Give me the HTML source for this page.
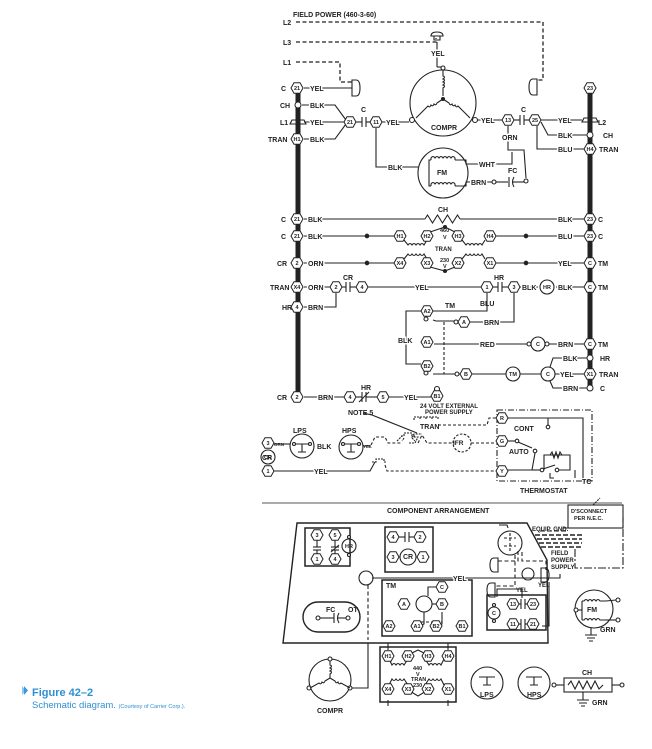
<!DOCTYPE html>
<html><head><meta charset="utf-8"><style>
html,body{margin:0;padding:0;background:#fff;width:652px;height:749px;overflow:hidden}
svg{position:absolute;left:0;top:0}
text{font-family:"Liberation Sans",sans-serif;font-weight:bold;font-size:7px;fill:#222}
.l{paint-order:stroke;stroke:#fff;stroke-width:3px}
.n{font-size:5.5px;text-anchor:middle;stroke:none}
.c{text-anchor:middle}
</style></head><body>
<svg width="652" height="749" viewBox="0 0 652 749" xmlns="http://www.w3.org/2000/svg">
<defs>
<polygon id="h" points="6,0 3,5.2 -3,5.2 -6,0 -3,-5.2 3,-5.2" fill="#fff" stroke="#222" stroke-width="1"/>
</defs>
<g fill="none" stroke="#222" stroke-width="1.1">
<line x1="298" y1="88" x2="298" y2="397" stroke-width="5"/>
<line x1="590" y1="88" x2="590" y2="389" stroke-width="5"/>
<g stroke-dasharray="4,2.5" stroke-width="1.3">
<polyline points="296,22 543,22 543,80 537,80"/>
<polyline points="296,42 436,42 436,38"/>
<polyline points="296,62 340,62 340,82 352,82"/>
</g>
<path d="M352,80 h4 q4,0 4,8 q0,8 -4,8 h-4 z"/>
<path d="M431,36 h12 q0,-4 -6,-4 q-6,0 -6,4 z M434,36 v4 h6 v-4"/>
<path d="M537,79 h-4 q-4,0 -4,8 q0,8 4,8 h4 z"/>
<path d="M290,124 h16 l-2,-4 h-12 z"/>
<path d="M582,122 h16 l-2,-4 h-12 z"/>
<line x1="304" y1="88" x2="352" y2="88"/>
<polyline points="302,105 335,105 346,120"/>
<line x1="304" y1="122" x2="344" y2="122"/>
<polyline points="304,139 335,139 346,124"/>
<line x1="356" y1="122" x2="362" y2="122"/>
<line x1="362" y1="117" x2="362" y2="127"/><line x1="366" y1="117" x2="366" y2="127"/>
<line x1="366" y1="122" x2="370" y2="122"/>
<line x1="382" y1="122" x2="409" y2="122"/>
<circle cx="443" cy="103" r="33"/>
<line x1="437" y1="42" x2="437" y2="67"/>
<line x1="437" y1="67" x2="443" y2="67"/>
<circle cx="443" cy="68" r="2" fill="#fff"/>
<circle cx="412" cy="120" r="2.5" fill="#fff"/><circle cx="475" cy="120" r="2.5" fill="#fff"/>
<path d="M443,70 v6 q3,1 0,3 q3,1 0,3 q3,1 0,3 q3,1 0,3 v8"/>
<path d="M443,99 l-6,4 q-1,3 -3,1 q-1,3 -3,1 q-1,3 -3,1 l-12,12"/>
<path d="M443,99 l6,4 q1,3 3,1 q1,3 3,1 q1,3 3,1 l12,12"/>
<circle cx="443" cy="99" r="1.5" fill="#222"/>
<line x1="478" y1="120" x2="502" y2="120"/>
<line x1="514" y1="120" x2="520" y2="120"/>
<line x1="520" y1="115" x2="520" y2="125"/><line x1="524" y1="115" x2="524" y2="125"/>
<line x1="524" y1="120" x2="529" y2="120"/>
<line x1="541" y1="120" x2="582" y2="120"/>
<polyline points="541,122 548,135 588,135"/>
<polyline points="537,126 537,149 584,149"/>
<polyline points="508,126 508,150 524,150 526,178"/>
<circle cx="443" cy="173" r="25"/>
<polyline points="376,128 376,167 418,167"/>
<path d="M431,160 v-2 q2,-3 4,0 q2,-3 4,0 q2,-3 4,0 q2,-3 4,0 q2,-3 4,0 q2,-3 4,0 v2"/>
<path d="M431,186 v-2 q2,-3 4,0 q2,-3 4,0 q2,-3 4,0 q2,-3 4,0 q2,-3 4,0 q2,-3 4,0 v2"/>
<polyline points="431,160 429,160 429,186 431,186"/>
<polyline points="455,160 466,160 466,164 512,164 512,152"/>
<polyline points="455,186 466,186 466,182 492,182"/>
<circle cx="494" cy="182" r="2" fill="#fff"/>
<line x1="496" y1="182" x2="508" y2="182"/>
<line x1="509" y1="177" x2="509" y2="187"/><path d="M514,177 q-3,5 0,10"/>
<line x1="513" y1="182" x2="524" y2="182"/>
<circle cx="526" cy="181" r="2" fill="#fff"/>
<line x1="304" y1="219" x2="425" y2="219"/>
<path d="M425,219 l2.5,-4 l5,8 l5,-8 l5,8 l5,-8 l5,8 l5,-8 l2.5,4"/>
<line x1="460" y1="219" x2="584" y2="219"/>
<line x1="304" y1="236" x2="394" y2="236"/>
<circle cx="367" cy="236" r="1.8" fill="#222"/>
<line x1="496" y1="236" x2="584" y2="236"/>
<circle cx="526" cy="236" r="1.8" fill="#222"/>
<path d="M404,240 l4,5 q2,-3 4,0 q2,-3 4,0 q2,-3 4,0 q2,-3 4,0 l3,-5"/>
<path d="M462,240 l4,5 q2,-3 4,0 q2,-3 4,0 q2,-3 4,0 q2,-3 4,0 l3,-5"/>
<polyline points="430,232 445,227 455,232"/><circle cx="445" cy="227" r="1.5" fill="#222"/>
<path d="M404,259 l4,-5 q2,3 4,0 q2,3 4,0 q2,3 4,0 q2,3 4,0 l3,5"/>
<path d="M462,259 l4,-5 q2,3 4,0 q2,3 4,0 q2,3 4,0 q2,3 4,0 l3,5"/>
<polyline points="430,267 445,271 455,267"/><circle cx="445" cy="271" r="1.5" fill="#222"/>
<line x1="304" y1="263" x2="394" y2="263"/>
<circle cx="367" cy="263" r="1.8" fill="#222"/>
<line x1="496" y1="263" x2="584" y2="263"/>
<circle cx="526" cy="263" r="1.8" fill="#222"/>
<line x1="304" y1="287" x2="330" y2="287"/>
<line x1="342" y1="287" x2="346" y2="287"/>
<line x1="346" y1="282" x2="346" y2="292"/><line x1="350" y1="282" x2="350" y2="292"/>
<line x1="350" y1="287" x2="356" y2="287"/>
<line x1="368" y1="287" x2="481" y2="287"/>
<line x1="493" y1="287" x2="498" y2="287"/>
<line x1="498" y1="282" x2="498" y2="292"/><line x1="502" y1="282" x2="502" y2="292"/>
<line x1="502" y1="287" x2="508" y2="287"/>
<line x1="520" y1="287" x2="538" y2="287"/>
<circle cx="547" cy="287" r="7"/>
<line x1="556" y1="287" x2="584" y2="287"/>
<polyline points="304,307 336,307 336,293"/>
<polyline points="487,293 487,311 433,311"/>
<polyline points="514,293 514,322 470,322"/>
<polyline points="433,320 436,321 454,321"/><circle cx="456" cy="322" r="2" fill="#fff"/>
<line x1="444" y1="322" x2="444" y2="374" stroke-dasharray="3,2"/>
<polyline points="421,311 406,311 406,364 421,364"/>
<line x1="434" y1="344" x2="529" y2="344"/>
<circle cx="529" cy="344" r="2" fill="#fff"/>
<circle cx="538" cy="344" r="7"/>
<circle cx="547" cy="344" r="2" fill="#fff"/>
<line x1="549" y1="344" x2="584" y2="344"/>
<polyline points="433,374 455,374"/><circle cx="457" cy="374" r="2" fill="#fff"/>
<line x1="472" y1="374" x2="506" y2="374"/>
<circle cx="513" cy="374" r="7"/>
<line x1="520" y1="374" x2="541" y2="374"/>
<circle cx="548" cy="374" r="7"/>
<line x1="555" y1="374" x2="584" y2="374"/>
<polyline points="550,367 553,358 588,358"/>
<polyline points="550,381 553,388 588,388"/>
<circle cx="426" cy="319" r="2" fill="#fff"/>
<circle cx="426" cy="373" r="2" fill="#fff"/>
<line x1="304" y1="397" x2="344" y2="397"/>
<line x1="356" y1="397" x2="362" y2="397"/>
<line x1="362" y1="392" x2="362" y2="402"/><line x1="366" y1="392" x2="366" y2="402"/>
<line x1="359" y1="402" x2="369" y2="392"/>
<line x1="366" y1="397" x2="377" y2="397"/>
<line x1="389" y1="397" x2="431" y2="397"/>
<circle cx="437" cy="389" r="2.5" fill="#fff"/>
<path d="M414,420 v-3 h6 v3 M420,417 h6 v3 M426,417 h6 v3 M432,417 h6 v3" stroke-dasharray="2,1"/>
<polyline points="363,413 372,415 417,433"/>
<polyline points="438,425 487,425 489,418 496,418" stroke-dasharray="3,2"/>
<path d="M401,436 h3 v-3 h8 v3 h3 M397,441 l5,-5 M404,438 l-2,3 M412,438 l3,3" stroke-dasharray="2,1"/>
<path d="M409,443 h6 l3,-6 h-6 l2,-3 h8" stroke-dasharray="2,1"/>
<polyline points="371,445 375,437 385,437 388,443 402,443" stroke-dasharray="3,2"/>
<polyline points="418,443 422,435 427,443 453,443" stroke-dasharray="3,2"/>
<circle cx="462" cy="443" r="9" stroke-dasharray="2.5,1.5"/>
<line x1="471" y1="443" x2="496" y2="443" stroke-dasharray="3,2"/>
<circle cx="302" cy="446" r="12"/>
<circle cx="351" cy="447" r="12"/>
<path d="M294,444 h16 M302,444 v8 M298,452 h8"/>
<circle cx="294" cy="444" r="1.5" fill="#fff"/><circle cx="310" cy="444" r="1.5" fill="#fff"/>
<path d="M343,444 h16 M351,444 v8 M347,452 h8"/>
<circle cx="343" cy="444" r="1.5" fill="#fff"/><circle cx="359" cy="444" r="1.5" fill="#fff"/>
<line x1="274" y1="444" x2="290" y2="444"/>
<line x1="363" y1="446" x2="371" y2="446"/>
<circle cx="268" cy="457" r="7"/>
<polyline points="274,471 370,471 375,462"/>
<path d="M372,462 h4 v-3 h8 v3 h3" stroke-dasharray="2,1"/>
<polyline points="385,465 387,471 496,471" stroke-dasharray="3,2"/>
<rect x="497" y="410" width="95" height="71" stroke-dasharray="6,2,1,2"/>
<polyline points="508,418 583,418 583,478"/>
<line x1="548" y1="418" x2="548" y2="425"/><circle cx="548" cy="427" r="1.8" fill="#fff"/>
<line x1="508" y1="441" x2="515" y2="441"/><circle cx="517" cy="441" r="1.8" fill="#fff"/>
<line x1="518" y1="442" x2="532" y2="448"/>
<circle cx="535" cy="451" r="1.8" fill="#fff"/>
<polyline points="508,470 532,470 535,453"/>
<polyline points="532,470 540,470"/>
<circle cx="542" cy="470" r="1.8" fill="#fff"/>
<line x1="543" y1="469" x2="555" y2="465"/>
<circle cx="557" cy="470" r="1.8" fill="#fff"/>
<polyline points="559,470 570,470 570,455 544,455 544,470"/>
<path d="M550,455 l2,-3 l2,6 l2,-6 l2,6 l2,-6 l2,3"/>
<path d="M550,473 v5 h4"/>
<line x1="575" y1="470" x2="575" y2="478"/>
<line x1="262" y1="503" x2="622" y2="503" stroke="#777" stroke-width="1.3"/>
<polygon points="297,523 527,523 547,560 548,643 283,643" stroke-width="1.4"/>
<rect x="305" y="528" width="45" height="38" stroke-width="1.5"/>
<rect x="385" y="527" width="48" height="45" stroke-width="1.5"/>
<rect x="382" y="580" width="90" height="56" stroke-width="1.5"/>
<rect x="487" y="595" width="59" height="35" stroke-width="1.5"/>
<rect x="303" y="602" width="57" height="30" rx="15" stroke-width="1.4"/>
<line x1="317" y1="547" x2="317" y2="540"/><line x1="313" y1="547" x2="321" y2="547"/><line x1="313" y1="550" x2="321" y2="550"/><line x1="317" y1="550" x2="317" y2="556"/>
<line x1="335" y1="547" x2="335" y2="540"/><line x1="331" y1="547" x2="339" y2="547"/><line x1="331" y1="550" x2="339" y2="550"/><line x1="335" y1="550" x2="335" y2="556"/><line x1="331" y1="552" x2="339" y2="545"/>
<circle cx="349" cy="546" r="7"/>
<circle cx="349" cy="537" r="1.5" fill="#fff"/><circle cx="349" cy="555" r="1.5" fill="#fff"/>
<line x1="399" y1="537" x2="405" y2="537"/><line x1="405" y1="532" x2="405" y2="542"/><line x1="409" y1="532" x2="409" y2="542"/><line x1="409" y1="537" x2="414" y2="537"/>
<circle cx="408" cy="557" r="8"/>
<line x1="320" y1="618" x2="334" y2="618"/><line x1="334" y1="613" x2="334" y2="623"/><path d="M339,613 q-3,5 0,10"/><line x1="338" y1="618" x2="346" y2="618"/>
<circle cx="318" cy="618" r="2" fill="#fff"/><circle cx="348" cy="618" r="2" fill="#fff"/>
<circle cx="366" cy="578" r="7"/>
<polyline points="372,578 560,578 560,574" />
<polyline points="368,585 368,640" stroke-dasharray="4,2.5"/>
<polyline points="368,643 368,688 350,688"/>
<circle cx="424" cy="604" r="8"/>
<polyline points="428,596 428,587 442,587"/>
<polyline points="432,604 442,604"/>
<polyline points="424,612 424,624 419,626"/>
<polyline points="442,612 442,624 437,626"/>
<line x1="416" y1="622" x2="442" y2="622" stroke-dasharray="3,2"/>
<circle cx="510" cy="543" r="12"/>
<path d="M504,538 h12 M504,546 h12 M510,533 v20" stroke-dasharray="3,2"/>
<path d="M499,525 h8 l1,3" />
<polyline points="498,561 518,561 518,550" stroke-dasharray="4,2.5"/>
<polyline points="522,552 522,561 546,561 546,570" stroke-dasharray="4,2.5"/>
<polyline points="515,555 515,586 495,586" stroke-dasharray="4,2.5"/>
<circle cx="528" cy="574" r="6"/>
<path d="M498,558 h-4 q-4,0 -4,7 q0,7 4,7 h4 z"/>
<path d="M495,583 h-4 q-4,0 -4,7 q0,7 4,7 h4 z"/>
<path d="M541,568 h4 q4,0 4,7 q0,7 -4,7 h-4 z"/>
<polyline points="497,597 497,589 522,589 522,598"/>
<polyline points="549,582 549,626 542,626"/>
<g stroke-dasharray="5,2" stroke-width="1.4">
<line x1="535" y1="535" x2="582" y2="535"/>
<line x1="537" y1="539" x2="582" y2="539"/>
<line x1="539" y1="543" x2="582" y2="543"/>
<line x1="541" y1="547" x2="582" y2="547"/>
</g>
<line x1="540" y1="531" x2="566" y2="531" stroke-dasharray="5,2"/>
<path d="M563,531 v-3 h5"/>
<polyline points="575,549 575,568 610,568 623,568 623,517" stroke-dasharray="8,2,2,2"/>
<rect x="568" y="505" width="55" height="23"/>
<polyline points="593,505 600,498" stroke-dasharray="2,1"/>
<line x1="519" y1="604" x2="521" y2="604"/><line x1="521" y1="599" x2="521" y2="609"/><line x1="525" y1="599" x2="525" y2="609"/><line x1="525" y1="604" x2="528" y2="604"/>
<line x1="519" y1="624" x2="521" y2="624"/><line x1="521" y1="619" x2="521" y2="629"/><line x1="525" y1="619" x2="525" y2="629"/><line x1="525" y1="624" x2="528" y2="624"/>
<circle cx="494" cy="613" r="6"/>
<circle cx="494" cy="605" r="1.5" fill="#fff"/><circle cx="494" cy="621" r="1.5" fill="#fff"/>
<circle cx="594" cy="609" r="19"/>
<line x1="578" y1="610" x2="582" y2="610"/><circle cx="576" cy="610" r="2" fill="#fff"/>
<polyline points="582,601 582,620"/>
<path d="M582,601 h2 q2,-3 4,0 q2,-3 4,0 q2,-3 4,0 q2,-3 4,0 h6 M582,620 h2 q2,-3 4,0 q2,-3 4,0 q2,-3 4,0 q2,-3 4,0 h6"/>
<line x1="606" y1="601" x2="616" y2="600"/><circle cx="618" cy="600" r="2" fill="#fff"/>
<line x1="606" y1="620" x2="616" y2="620"/><circle cx="618" cy="620" r="2" fill="#fff"/>
<path d="M591,628 v7 M585,635 h12 M587,638 h8 M589,641 h4"/>
<circle cx="330" cy="680" r="21"/>
<circle cx="330" cy="659" r="2" fill="#fff"/><circle cx="309" cy="688" r="2" fill="#fff"/><circle cx="350" cy="688" r="2" fill="#fff"/>
<path d="M330,661 v4 q3,1 0,3 q3,1 0,3 q3,1 0,3 v4 M330,678 l-5,3 q-1,3 -3,1 q-1,3 -3,1 l-9,5 M330,678 l5,3 q1,3 3,1 q1,3 3,1 l9,5"/>
<rect x="380" y="647" width="76" height="55" stroke-width="1.5"/>
<path d="M388,651 v6 l4,8 q2,-3 4,0 q2,-3 4,0 q2,-3 4,0 l4,-6 M425,659 l4,6 q2,-3 4,0 q2,-3 4,0 q2,-3 4,0 l4,-8"/>
<path d="M388,693 v-6 l4,-8 q2,3 4,0 q2,3 4,0 q2,3 4,0 l4,6 M425,685 l4,-6 q2,3 4,0 q2,3 4,0 q2,3 4,0 l4,8"/>
<polyline points="408,655 418,650 428,655"/><polyline points="408,690 418,696 428,690"/>
<line x1="388" y1="643" x2="388" y2="650"/><line x1="448" y1="643" x2="448" y2="650"/>
<line x1="388" y1="700" x2="388" y2="706"/><line x1="448" y1="700" x2="448" y2="706"/>
<circle cx="487" cy="683" r="16"/>
<circle cx="534" cy="683" r="16"/>
<path d="M479,677 h16 M487,677 v8 M483,685 h8 M526,677 h16 M534,677 v8 M530,685 h8"/>
<rect x="564" y="678" width="48" height="14"/>
<path d="M568,685 l3,-4 l4,8 l4,-8 l4,8 l4,-8 l4,8 l4,-8 l4,8 l4,-4"/>
<line x1="556" y1="685" x2="564" y2="685"/><circle cx="554" cy="685" r="2" fill="#fff"/>
<line x1="612" y1="685" x2="620" y2="685"/><circle cx="622" cy="685" r="2" fill="#fff"/>
<path d="M583,692 v8 M577,700 h12 M579,703 h8 M581,706 h4"/>
</g>
<g fill="#fff" stroke="#222"><circle cx="298" cy="105" r="3"/><circle cx="590" cy="135" r="3"/><circle cx="590" cy="358" r="3"/><circle cx="590" cy="388" r="3"/></g>
<g>
<use href="#h" x="297" y="88"/><use href="#h" x="297" y="139"/><use href="#h" x="350" y="122"/><use href="#h" x="376" y="122"/>
<use href="#h" x="508" y="120"/><use href="#h" x="535" y="120"/><use href="#h" x="590" y="88"/><use href="#h" x="590" y="149"/>
<use href="#h" x="297" y="219"/><use href="#h" x="297" y="236"/><use href="#h" x="590" y="219"/><use href="#h" x="590" y="236"/>
<use href="#h" x="400" y="236"/><use href="#h" x="427" y="236"/><use href="#h" x="458" y="236"/><use href="#h" x="490" y="236"/>
<use href="#h" x="400" y="263"/><use href="#h" x="427" y="263"/><use href="#h" x="458" y="263"/><use href="#h" x="490" y="263"/>
<use href="#h" x="297" y="263"/><use href="#h" x="590" y="263"/><use href="#h" x="297" y="287"/><use href="#h" x="336" y="287"/><use href="#h" x="362" y="287"/>
<use href="#h" x="487" y="287"/><use href="#h" x="514" y="287"/><use href="#h" x="590" y="287"/><use href="#h" x="297" y="307"/>
<use href="#h" x="427" y="311"/><use href="#h" x="464" y="322"/><use href="#h" x="427" y="342"/><use href="#h" x="590" y="344"/>
<use href="#h" x="427" y="366"/><use href="#h" x="466" y="374"/><use href="#h" x="590" y="374"/>
<use href="#h" x="297" y="397"/><use href="#h" x="350" y="397"/><use href="#h" x="383" y="397"/><use href="#h" x="437" y="396"/>
<use href="#h" x="502" y="418"/><use href="#h" x="502" y="441"/><use href="#h" x="502" y="471"/>
<use href="#h" x="268" y="443"/><use href="#h" x="268" y="471"/>
<use href="#h" x="317" y="535"/><use href="#h" x="317" y="559"/><use href="#h" x="335" y="535"/><use href="#h" x="335" y="559"/>
<use href="#h" x="393" y="537"/><use href="#h" x="420" y="537"/><use href="#h" x="393" y="557"/><use href="#h" x="423" y="557"/>
<use href="#h" x="442" y="587"/><use href="#h" x="442" y="604"/><use href="#h" x="404" y="604"/>
<use href="#h" x="389" y="626"/><use href="#h" x="417" y="626"/><use href="#h" x="436" y="626"/><use href="#h" x="462" y="626"/>
<use href="#h" x="513" y="604"/><use href="#h" x="533" y="604"/><use href="#h" x="513" y="624"/><use href="#h" x="533" y="624"/>
<use href="#h" x="388" y="656"/><use href="#h" x="408" y="656"/><use href="#h" x="428" y="656"/><use href="#h" x="448" y="656"/>
<use href="#h" x="388" y="689"/><use href="#h" x="408" y="689"/><use href="#h" x="428" y="689"/><use href="#h" x="448" y="689"/>
</g>
<g>
<text class="n" x="297" y="90">21</text><text class="n" x="297" y="141">H1</text><text class="n" x="350" y="124">21</text><text class="n" x="376" y="124">11</text>
<text class="n" x="508" y="122">13</text><text class="n" x="535" y="122">25</text><text class="n" x="590" y="90">23</text><text class="n" x="590" y="151">H4</text>
<text class="n" x="297" y="221">21</text><text class="n" x="297" y="238">21</text><text class="n" x="590" y="221">23</text><text class="n" x="590" y="238">23</text>
<text class="n" x="400" y="238">H1</text><text class="n" x="427" y="238">H2</text><text class="n" x="458" y="238">H3</text><text class="n" x="490" y="238">H4</text>
<text class="n" x="400" y="265">X4</text><text class="n" x="427" y="265">X3</text><text class="n" x="458" y="265">X2</text><text class="n" x="490" y="265">X1</text>
<text class="n" x="297" y="265">2</text><text class="n" x="590" y="265">C</text><text class="n" x="297" y="289">X4</text><text class="n" x="336" y="289">2</text><text class="n" x="362" y="289">4</text>
<text class="n" x="487" y="289">1</text><text class="n" x="514" y="289">3</text><text class="n" x="590" y="289">C</text><text class="n" x="297" y="309">4</text>
<text class="n" x="427" y="313">A2</text><text class="n" x="464" y="324">A</text><text class="n" x="427" y="344">A1</text><text class="n" x="590" y="346">C</text>
<text class="n" x="427" y="368">B2</text><text class="n" x="466" y="376">B</text><text class="n" x="590" y="376">X1</text>
<text class="n" x="297" y="399">2</text><text class="n" x="350" y="399">4</text><text class="n" x="383" y="399">5</text><text class="n" x="437" y="398">B1</text>
<text class="n" x="502" y="420">R</text><text class="n" x="502" y="443">G</text><text class="n" x="502" y="473">Y</text>
<text class="n" x="268" y="445">3</text><text class="n" x="268" y="473">1</text>
<text class="n" x="538" y="346">C</text><text class="n" x="548" y="376">C</text><text class="n" x="513" y="376">TM</text><text class="n" x="547" y="289">HR</text><text class="n" x="268" y="459">CR</text>
<text class="n" x="317" y="537">3</text><text class="n" x="317" y="561">1</text><text class="n" x="335" y="537">5</text><text class="n" x="335" y="561">4</text><text class="n" x="349" y="548">HR</text>
<text class="n" x="393" y="539">4</text><text class="n" x="420" y="539">2</text><text class="n" x="393" y="559">3</text><text class="n" x="423" y="559">1</text><text class="n" x="408" y="559" style="font-size:7px">CR</text>
<text class="n" x="442" y="589">C</text><text class="n" x="442" y="606">B</text><text class="n" x="404" y="606">A</text>
<text class="n" x="389" y="628">A2</text><text class="n" x="417" y="628">A1</text><text class="n" x="436" y="628">B2</text><text class="n" x="462" y="628">B1</text>
<text class="n" x="513" y="606">13</text><text class="n" x="533" y="606">23</text><text class="n" x="513" y="626">11</text><text class="n" x="533" y="626">21</text><text class="n" x="494" y="615">C</text>
<text class="n" x="388" y="658">H1</text><text class="n" x="408" y="658">H2</text><text class="n" x="428" y="658">H3</text><text class="n" x="448" y="658">H4</text>
<text class="n" x="388" y="691">X4</text><text class="n" x="408" y="691">X3</text><text class="n" x="428" y="691">X2</text><text class="n" x="448" y="691">X1</text>
</g>
<g>
<text x="293" y="17">FIELD POWER (460-3-60)</text>
<text x="283" y="25">L2</text><text x="283" y="45">L3</text><text x="283" y="65">L1</text>
<text class="l" x="431" y="56">YEL</text>
<text x="281" y="91">C</text><text class="l" x="310" y="91">YEL</text>
<text x="280" y="108">CH</text><text class="l" x="310" y="108">BLK</text>
<text x="280" y="125">L1</text><text class="l" x="310" y="125">YEL</text>
<text x="268" y="142">TRAN</text><text class="l" x="310" y="142">BLK</text>
<text x="361" y="112">C</text><text class="l" x="386" y="125">YEL</text>
<text x="431" y="130">COMPR</text>
<text class="l" x="481" y="123">YEL</text><text x="521" y="112">C</text><text class="l" x="502" y="140">ORN</text>
<text class="l" x="558" y="123">YEL</text><text x="598" y="125">L2</text>
<text class="l" x="558" y="138">BLK</text><text x="603" y="138">CH</text>
<text class="l" x="558" y="152">BLU</text><text x="599" y="152">TRAN</text>
<text x="437" y="175">FM</text><text class="l" x="388" y="170">BLK</text><text class="l" x="479" y="167">WHT</text><text class="l" x="471" y="185">BRN</text><text x="508" y="173">FC</text>
<text x="281" y="222">C</text><text class="l" x="308" y="222">BLK</text><text x="438" y="212">CH</text><text class="l" x="558" y="222">BLK</text><text x="598" y="222">C</text>
<text x="281" y="239">C</text><text class="l" x="308" y="239">BLK</text><text class="l" x="558" y="239">BLU</text><text x="598" y="239">C</text>
<text style="font-size:5.5px" x="440" y="232">460</text><text style="font-size:5.5px" x="443" y="239">V</text>
<text style="font-size:6px" x="435" y="251">TRAN</text>
<text style="font-size:5.5px" x="440" y="262">230</text><text style="font-size:5.5px" x="443" y="268">V</text>
<text x="277" y="266">CR</text><text class="l" x="308" y="266">ORN</text><text class="l" x="558" y="266">YEL</text><text x="598" y="266">TM</text>
<text x="270" y="290">TRAN</text><text class="l" x="308" y="290">ORN</text><text x="343" y="280">CR</text><text class="l" x="415" y="290">YEL</text>
<text x="494" y="280">HR</text><text class="l" x="522" y="290">BLK</text><text class="l" x="558" y="290">BLK</text><text x="598" y="290">TM</text>
<text x="282" y="310">HR</text><text class="l" x="308" y="310">BRN</text>
<text x="480" y="306">BLU</text><text x="445" y="308">TM</text><text class="l" x="484" y="325">BRN</text>
<text class="l" x="398" y="343">BLK</text><text class="l" x="480" y="347">RED</text><text class="l" x="558" y="347">BRN</text><text x="598" y="347">TM</text>
<text class="l" x="563" y="361">BLK</text><text x="600" y="361">HR</text>
<text class="l" x="560" y="377">YEL</text><text x="599" y="377">TRAN</text>
<text class="l" x="563" y="391">BRN</text><text x="600" y="391">C</text>
<text x="277" y="400">CR</text><text class="l" x="318" y="400">BRN</text><text x="361" y="390">HR</text><text class="l" x="404" y="400">YEL</text>
<text style="font-size:6px" x="420" y="408">24 VOLT EXTERNAL</text><text style="font-size:6px" x="425" y="414">POWER SUPPLY</text>
<text x="348" y="415">NOTE 5</text><text x="420" y="429">TRAN</text>
<text x="453" y="445" style="font-size:6.5px">IFR</text>
<text x="514" y="431">CONT</text><text x="509" y="454">AUTO</text>
<text x="520" y="493">THERMOSTAT</text><text x="582" y="484">TC</text>
<text x="293" y="433">LPS</text><text x="342" y="433">HPS</text>
<text class="l" x="317" y="449">BLK</text><text style="font-size:4.5px" x="274" y="446">ORN</text><text style="font-size:4.5px" x="363" y="448">YEL</text>
<text x="262" y="460">CR</text><text class="l" x="314" y="474">YEL</text>
<text x="387" y="513">COMPONENT ARRANGEMENT</text>
<text style="font-size:5.5px" x="571" y="513">D'SCONNECT</text><text style="font-size:5.5px" x="574" y="520">PER N.E.C.</text>
<text style="font-size:6px" x="532" y="531">EQUIP. GND.</text>
<text style="font-size:6px" x="551" y="555">FIELD</text><text style="font-size:6px" x="551" y="562">POWER</text><text style="font-size:6px" x="551" y="569">SUPPLY</text>
<text class="l" x="453" y="581">YEL</text><text style="font-size:6px" x="516" y="592">YEL</text><text style="font-size:6px" x="538" y="587">YEL</text>
<text x="386" y="588">TM</text><text x="326" y="612">FC</text><text x="348" y="612">OT</text>
<text x="587" y="612">FM</text><text x="600" y="632">GRN</text>
<text x="317" y="713">COMPR</text>
<text style="font-size:5.5px" x="413" y="670">440</text><text style="font-size:5.5px" x="416" y="676">V</text><text style="font-size:5.5px" x="411" y="681">TRAN</text><text style="font-size:5.5px" x="413" y="687">230</text>
<text x="480" y="697">LPS</text><text x="527" y="697">HPS</text>
<text x="582" y="675">CH</text><text x="592" y="705">GRN</text>
</g>
<polygon points="22,686 22,695 26,690.5" fill="#8cc4ec"/>
<polygon points="24,686 24,695 28,690.5" fill="#3a9ad9"/>
<text x="32" y="696" style="font-size:11px;fill:#2f8fd4;font-weight:bold">Figure 42–2</text>
<text x="32" y="708" style="font-size:9.5px;fill:#2f8fd4;font-weight:normal">Schematic diagram. <tspan style="font-size:5.5px">(Courtesy of Carrier Corp.).</tspan></text>
</svg>
</body></html>
